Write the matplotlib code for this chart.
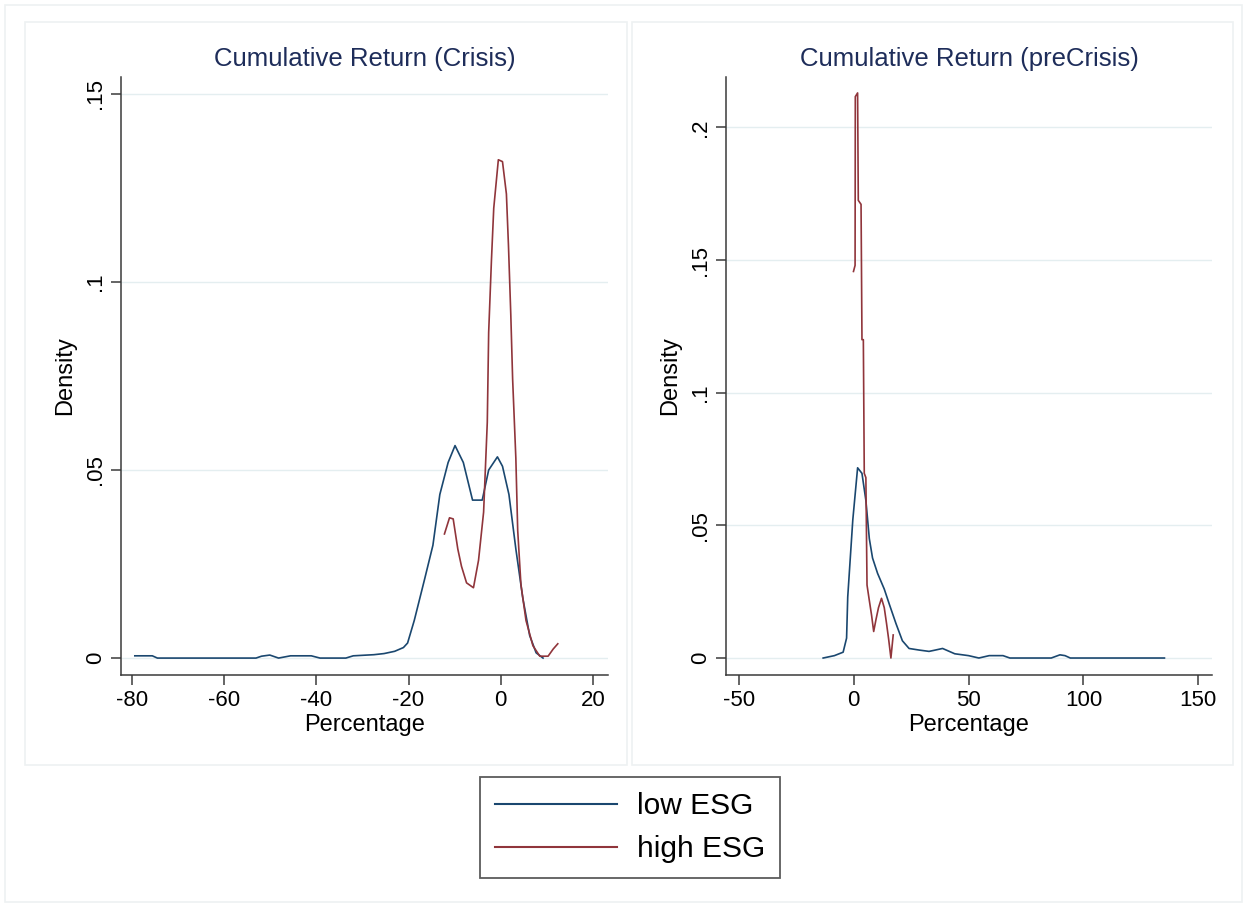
import matplotlib.pyplot as plt
from matplotlib.patches import Rectangle
from matplotlib.lines import Line2D

plt.rcParams['font.family'] = ['Liberation Sans', 'DejaVu Sans']
plt.rcParams['axes.unicode_minus'] = False

# ── Data ─────────────────────────────
# Crisis period: kernel density of cumulative return (%)
crisis_low_x = [-79.4, -75.6, -74.5, -53.1, -51.9, -50.1, -48.2, -45.6, -41.1, -39.2,
                -33.6, -32.0, -27.5, -25.3, -23.0, -21.1, -20.2, -18.75, -16.5, -14.7,
                -13.2, -11.4, -9.9, -8.1, -6.1, -4.0, -2.6, -0.7, 0.4, 1.8,
                3.3, 4.8, 6.3, 7.7, 9.2]
crisis_low_y = [0.0006, 0.0006, 0.0, 0.0, 0.0005, 0.0008, 0.0, 0.0006, 0.0006, 0.0,
                0.0, 0.0006, 0.0009, 0.0012, 0.0018, 0.0028, 0.004, 0.010, 0.021, 0.030,
                0.0435, 0.052, 0.0565, 0.052, 0.042, 0.042, 0.050, 0.0535, 0.051, 0.0435,
                0.029, 0.016, 0.006, 0.0014, 0.0]
crisis_high_x = [-12.2, -11.1, -10.3, -9.3, -8.5, -7.4, -5.9, -4.8, -3.7, -2.9,
                 -2.6, -2.0, -1.5, -0.5, 0.4, 1.25, 1.7, 2.2, 2.6, 3.3,
                 3.7, 4.4, 5.5, 7.0, 8.5, 10.3, 11.4, 12.4]
crisis_high_y = [0.033, 0.0373, 0.037, 0.029, 0.0244, 0.020, 0.0187, 0.026, 0.0388, 0.0627,
                 0.0866, 0.1057, 0.1196, 0.1325, 0.132, 0.1234, 0.1096, 0.0914, 0.0742, 0.0531,
                 0.034, 0.0196, 0.010, 0.0033, 0.0005, 0.0005, 0.0024, 0.0038]

# Pre-crisis period
pre_low_x = [-13.3, -8.4, -4.6, -3.1, -2.6, -0.4, 1.7, 3.6, 5.3, 6.8,
             8.2, 10.4, 13.3, 15.5, 18.4, 21.2, 24.1, 28.5, 32.8, 35.0,
             38.7, 44.0, 50.0, 54.5, 59.0, 65.0, 68.0, 86.0, 89.8, 92.0,
             94.3, 135.3]
pre_low_y = [0.0, 0.0009, 0.0022, 0.0075, 0.023, 0.052, 0.0717, 0.0696, 0.0594, 0.045,
             0.0377, 0.0319, 0.026, 0.0203, 0.013, 0.0065, 0.0036, 0.003, 0.0025, 0.0029,
             0.0036, 0.0016, 0.0009, 0.0, 0.0009, 0.0009, 0.0, 0.0, 0.0012, 0.0009,
             0.0, 0.0]
pre_high_x = [-0.1, 0.6, 0.7, 1.7, 2.0, 3.2, 3.6, 4.2, 4.6, 5.3,
              5.8, 6.8, 7.8, 8.7, 9.7, 10.8, 12.1, 13.3, 14.3, 15.2,
              16.2, 17.2]
pre_high_y = [0.1457, 0.148, 0.2116, 0.213, 0.1725, 0.171, 0.120, 0.120, 0.0696, 0.068,
              0.0275, 0.0217, 0.016, 0.010, 0.0145, 0.019, 0.0225, 0.019, 0.013, 0.0072,
              0.0, 0.0087]

titles = ['Cumulative Return (Crisis)', 'Cumulative Return (preCrisis)']
series_names = ['low ESG', 'high ESG']

LOW_C = '#1a476f'
HIGH_C = '#90353b'
GRID_C = '#e4eef0'
AXIS_C = '#3a3a3a'

W, H = 1247, 907
fig = plt.figure(figsize=(W / 100, H / 100), dpi=100)
fig.patch.set_facecolor('white')


def px_box(x0, y0, x1, y1):
    # pixel box (top-left origin) -> figure fraction rect
    return [x0 / W, 1 - y1 / H, (x1 - x0) / W, (y1 - y0) / H]


# faint panel frames like the Stata graph regions
for (x0, y0, x1, y1) in [(5, 5, 1242, 902), (25, 22, 627, 765), (632, 22, 1233, 765)]:
    r = px_box(x0, y0, x1, y1)
    fig.patches.append(Rectangle((r[0], r[1]), r[2], r[3], transform=fig.transFigure,
                                 fill=False, edgecolor='#eef1f2', linewidth=1.2))

ax1 = fig.add_axes(px_box(121, 77, 608, 675))
ax2 = fig.add_axes(px_box(726, 77, 1212, 675))

ax1.plot(crisis_low_x, crisis_low_y, color=LOW_C, lw=1.2, label=series_names[0])
ax1.plot(crisis_high_x, crisis_high_y, color=HIGH_C, lw=1.2, label=series_names[1])
ax1.set_xlim(-82.4, 23.3)
ax1.set_ylim(-0.0045, 0.1545)
ax1.set_xticks([-80, -60, -40, -20, 0, 20])
ax1.set_yticks([0, 0.05, 0.1, 0.15])
ax1.set_yticklabels(['0', '.05', '.1', '.15'])

ax2.plot(pre_low_x, pre_low_y, color=LOW_C, lw=1.2)
ax2.plot(pre_high_x, pre_high_y, color=HIGH_C, lw=1.2)
ax2.set_xlim(-55.6, 156)
ax2.set_ylim(-0.0064, 0.219)
ax2.set_xticks([-50, 0, 50, 100, 150])
ax2.set_yticks([0, 0.05, 0.1, 0.15, 0.2])
ax2.set_yticklabels(['0', '.05', '.1', '.15', '.2'])

for ax, t in zip([ax1, ax2], titles):
    ax.set_title(t, fontsize=18.5, color='#1e2d5a', pad=8)
    ax.set_xlabel('Percentage', fontsize=17, labelpad=2)
    ax.set_ylabel('Density', fontsize=17, labelpad=6)
    ax.spines['top'].set_visible(False)
    ax.spines['right'].set_visible(False)
    for s in ['left', 'bottom']:
        ax.spines[s].set_color(AXIS_C)
        ax.spines[s].set_linewidth(1.1)
    ax.tick_params(axis='both', direction='out', length=7, width=1.1,
                   color=AXIS_C, labelsize=16, pad=4)
    for lab in ax.get_yticklabels():
        lab.set_rotation(90)
        lab.set_va('center')
    ax.yaxis.grid(True, color=GRID_C, lw=1.0)
    ax.set_axisbelow(True)
    ax.set_facecolor('white')

handles = [Line2D([], [], color=LOW_C, lw=1.5), Line2D([], [], color=HIGH_C, lw=1.5)]
leg = fig.legend(handles, series_names, loc='center',
                 bbox_to_anchor=(630 / W, 1 - 827.5 / H),
                 fontsize=21.5, handlelength=4.1, handletextpad=0.65,
                 labelspacing=0.5, borderpad=0.5, frameon=True, fancybox=False)
leg.get_frame().set_edgecolor('#333333')
leg.get_frame().set_linewidth(1.3)

fig.savefig('out.png', dpi=100)
